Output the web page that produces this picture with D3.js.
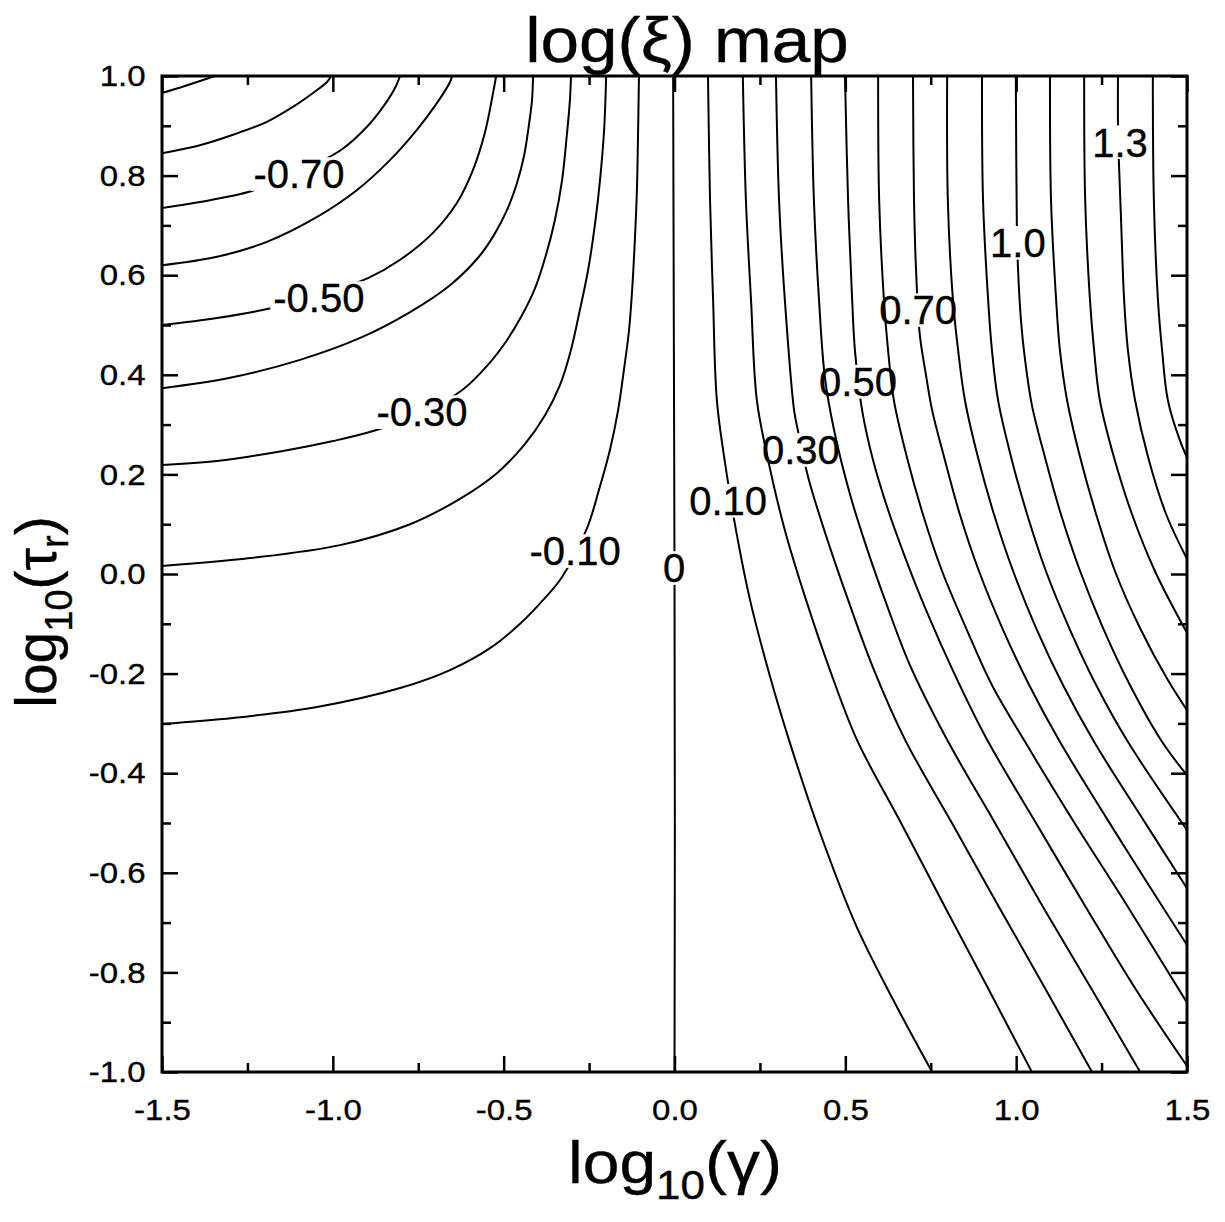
<!DOCTYPE html>
<html>
<head>
<meta charset="utf-8">
<script src="https://cdn.jsdelivr.net/npm/d3@7"></script>
<style>
  body { margin: 0; background: #fff; }
  svg text { font-family: "Liberation Sans", Arial, sans-serif; fill: #000; stroke: #000; stroke-width: 0.35px; }
</style>
</head>
<body>
<svg id="chart" width="1225" height="1222"></svg>
<script>
// axis ticks
const xTicks = [-1.5, -1.0, -0.5, 0.0, 0.5, 1.0, 1.5];
const xMinor = [-1.25, -0.75, -0.25, 0.25, 0.75, 1.25];
const yTicks = [-1.0, -0.8, -0.6, -0.4, -0.2, 0.0, 0.2, 0.4, 0.6, 0.8, 1.0];
const yMinor = [-0.9, -0.7, -0.5, -0.3, -0.1, 0.1, 0.3, 0.5, 0.7, 0.9];

// contour lines, [log10(gamma), log10(tau_r)]
const cM09 = [[-1.5,0.966],[-1.433,0.980],[-1.345,1.0]];
const cM08 = [[-1.5,0.845],[-1.389,0.861],[-1.292,0.882],[-1.193,0.908],[-1.117,0.938],[-1.058,0.966],[-1.017,0.988],[-1.005,1.0]];
const cM07 = [[-1.5,0.735],[-1.389,0.747],[-1.237,0.769],[-1.105,0.805],[-0.973,0.853],[-0.900,0.898],[-0.853,0.938],[-0.818,0.976],[-0.803,1.0]];
const cM06 = [[-1.5,0.620],[-1.339,0.637],[-1.193,0.667],[-1.046,0.717],[-0.929,0.771],[-0.833,0.831],[-0.754,0.892],[-0.695,0.946],[-0.657,0.988],[-0.651,1.0]];
const cM05 = [[-1.5,0.500],[-1.339,0.514],[-1.178,0.534],[-1.038,0.560],[-0.897,0.594],[-0.803,0.631],[-0.707,0.685],[-0.637,0.745],[-0.590,0.811],[-0.555,0.886],[-0.531,0.966],[-0.522,1.0]];
const cM04 = [[-1.5,0.373],[-1.301,0.394],[-1.096,0.430],[-0.920,0.474],[-0.774,0.526],[-0.657,0.580],[-0.575,0.635],[-0.528,0.681],[-0.490,0.731],[-0.461,0.785],[-0.440,0.841],[-0.426,0.902],[-0.417,0.952],[-0.414,1.0]];
const cM03 = [[-1.5,0.219],[-1.339,0.227],[-1.146,0.247],[-0.999,0.267],[-0.882,0.287],[-0.745,0.321],[-0.622,0.369],[-0.546,0.420],[-0.490,0.470],[-0.446,0.520],[-0.408,0.574],[-0.376,0.641],[-0.350,0.711],[-0.329,0.791],[-0.315,0.882],[-0.306,0.952],[-0.303,1.0]];
const cM02 = [[-1.5,0.016],[-1.242,0.032],[-0.979,0.058],[-0.774,0.100],[-0.628,0.151],[-0.519,0.203],[-0.438,0.261],[-0.379,0.319],[-0.335,0.380],[-0.303,0.450],[-0.277,0.530],[-0.253,0.610],[-0.233,0.701],[-0.218,0.791],[-0.206,0.892],[-0.200,1.0]];
const cM01 = [[-1.5,-0.301],[-1.292,-0.289],[-1.046,-0.267],[-0.803,-0.229],[-0.657,-0.193],[-0.540,-0.149],[-0.452,-0.100],[-0.379,-0.048],[-0.329,-0.006],[-0.256,0.092],[-0.221,0.169],[-0.189,0.249],[-0.165,0.329],[-0.148,0.410],[-0.133,0.490],[-0.124,0.570],[-0.116,0.671],[-0.110,0.771],[-0.107,0.871],[-0.104,1.0]];
const c00 = [[-0.004,1.0],[-0.002,0.5],[0.0,0.0],[0.001,-0.5],[0.0,-1.0]];
const c01 = [[0.098,1.0],[0.104,0.751],[0.113,0.550],[0.124,0.349],[0.151,0.209],[0.180,0.088],[0.221,-0.052],[0.280,-0.207],[0.335,-0.333],[0.423,-0.514],[0.531,-0.705],[0.640,-0.855],[0.754,-1.0]];
const c02 = [[0.200,1.0],[0.209,0.751],[0.224,0.550],[0.241,0.349],[0.274,0.229],[0.323,0.088],[0.385,-0.052],[0.455,-0.193],[0.534,-0.333],[0.663,-0.500],[0.792,-0.669],[0.920,-0.835],[1.046,-1.0]];
const c03 = [[0.297,1.0],[0.306,0.751],[0.323,0.550],[0.350,0.329],[0.361,0.289],[0.391,0.195],[0.443,0.078],[0.508,-0.052],[0.584,-0.193],[0.675,-0.333],[0.812,-0.500],[0.950,-0.669],[1.087,-0.835],[1.222,-1.0]];
const c04 = [[0.400,1.0],[0.408,0.751],[0.423,0.550],[0.440,0.396],[0.467,0.289],[0.514,0.159],[0.560,0.058],[0.616,-0.052],[0.689,-0.183],[0.798,-0.333],[0.938,-0.500],[1.079,-0.669],[1.222,-0.835],[1.363,-1.0]];
const c05 = [[0.499,1.0],[0.508,0.751],[0.520,0.550],[0.528,0.450],[0.549,0.329],[0.581,0.229],[0.625,0.129],[0.678,0.028],[0.736,-0.072],[0.821,-0.203],[0.915,-0.333],[1.058,-0.500],[1.204,-0.669],[1.351,-0.835],[1.5,-0.988]];
const c06 = [[0.596,1.0],[0.599,0.751],[0.613,0.550],[0.625,0.450],[0.642,0.349],[0.680,0.235],[0.727,0.120],[0.783,0.006],[0.853,-0.108],[0.929,-0.223],[1.026,-0.337],[1.169,-0.498],[1.324,-0.665],[1.5,-0.861]];
const c07 = [[0.698,1.0],[0.701,0.751],[0.707,0.610],[0.718,0.480],[0.736,0.400],[0.754,0.329],[0.789,0.235],[0.835,0.120],[0.891,0.006],[0.959,-0.108],[1.038,-0.223],[1.128,-0.337],[1.310,-0.540],[1.5,-0.745]];
const c08 = [[0.798,1.0],[0.800,0.751],[0.815,0.550],[0.830,0.450],[0.850,0.349],[0.888,0.235],[0.935,0.120],[0.991,0.006],[1.058,-0.108],[1.137,-0.223],[1.228,-0.337],[1.363,-0.484],[1.5,-0.631]];
const c09 = [[0.900,1.0],[0.903,0.751],[0.918,0.550],[0.929,0.450],[0.947,0.349],[0.985,0.235],[1.032,0.120],[1.087,0.006],[1.155,-0.108],[1.234,-0.223],[1.327,-0.337],[1.5,-0.514]];
const c10 = [[0.999,1.0],[1.002,0.701],[1.005,0.620],[1.014,0.510],[1.026,0.430],[1.046,0.339],[1.084,0.235],[1.131,0.120],[1.187,0.006],[1.254,-0.108],[1.333,-0.223],[1.427,-0.337],[1.5,-0.404]];
const c11 = [[1.099,1.0],[1.102,0.751],[1.117,0.550],[1.128,0.450],[1.149,0.349],[1.187,0.235],[1.234,0.120],[1.289,0.006],[1.362,-0.108],[1.444,-0.213],[1.523,-0.297]];
const c12 = [[1.199,1.0],[1.202,0.751],[1.216,0.550],[1.228,0.450],[1.245,0.349],[1.286,0.235],[1.339,0.120],[1.406,0.006],[1.479,-0.092],[1.538,-0.163]];
const c13 = [[1.298,1.0],[1.298,0.902],[1.301,0.821],[1.307,0.711],[1.316,0.550],[1.327,0.450],[1.348,0.349],[1.386,0.235],[1.439,0.120],[1.509,0.018]];
const c14 = [[1.400,1.0],[1.403,0.751],[1.415,0.550],[1.427,0.450],[1.444,0.349],[1.479,0.269],[1.523,0.199]];

const contourLevels = [-0.9, -0.8, -0.7, -0.6, -0.5, -0.4, -0.3, -0.2, -0.1, 0, 0.1, 0.2, 0.3, 0.4, 0.5, 0.6, 0.7, 0.8, 0.9, 1.0, 1.1, 1.2, 1.3, 1.4];
const contourLines = [cM09, cM08, cM07, cM06, cM05, cM04, cM03, cM02, cM01, c00, c01, c02, c03, c04, c05, c06, c07, c08, c09, c10, c11, c12, c13, c14];

// inline contour labels
const labelLevels = [-0.7, -0.5, -0.3, -0.1, 0, 0.1, 0.3, 0.5, 0.7, 1.0, 1.3];
const labelText = ["-0.70", "-0.50", "-0.30", "-0.10", "0", "0.10", "0.30", "0.50", "0.70", "1.0", "1.3"];
const labelX = [-1.099, -1.041, -0.739, -0.291, -0.001, 0.157, 0.370, 0.537, 0.713, 1.005, 1.304];
const labelY = [0.803, 0.554, 0.325, 0.046, 0.012, 0.147, 0.249, 0.386, 0.530, 0.665, 0.867];

const margin = { top: 76, right: 38, bottom: 150, left: 162 };
const width = 1225 - margin.left - margin.right;
const height = 1222 - margin.top - margin.bottom;
const labelSize = 40;

const svg = d3.select("#chart");
const defs = svg.append("defs");

const g = svg.append("g")
    .attr("transform", `translate(${margin.left},${margin.top})`);

const x = d3.scaleLinear().domain([-1.5, 1.5]).range([0, width]);
const y = d3.scaleLinear().domain([-1, 1]).range([height, 0]);

defs.append("clipPath").attr("id", "plot-clip")
    .append("rect").attr("width", width).attr("height", height);

const line = d3.line()
    .x(d => x(d[0]))
    .y(d => y(d[1]))
    .curve(d3.curveCatmullRom.alpha(0.5));

const lines = g.append("g")
    .attr("clip-path", "url(#plot-clip)")
    .selectAll("path")
    .data(contourLines)
    .enter()
    .append("path")
    .attr("fill", "none")
    .attr("stroke", "#000")
    .attr("stroke-width", 2)
    .attr("d", line);

// contour labels, the line is cut out under each one
const labels = g.append("g")
    .selectAll("text")
    .data(labelText)
    .enter()
    .append("text")
    .attr("x", (d, i) => x(labelX[i]))
    .attr("y", (d, i) => y(labelY[i]) + labelSize * 0.358)
    .attr("text-anchor", "middle")
    .style("font-size", labelSize + "px")
    .text(d => d);

labels.each(function(d, i) {
    const b = this.getBBox();
    const cy = y(labelY[i]);
    const m = defs.append("mask")
        .attr("id", "label-mask-" + i)
        .attr("maskUnits", "userSpaceOnUse")
        .attr("x", -20).attr("y", -20)
        .attr("width", width + 40).attr("height", height + 40);
    m.append("rect")
        .attr("x", -20).attr("y", -20)
        .attr("width", width + 40).attr("height", height + 40)
        .attr("fill", "#fff");
    m.append("rect")
        .attr("x", b.x - 3).attr("y", cy - labelSize * 0.42)
        .attr("width", b.width + 6).attr("height", labelSize * 0.84)
        .attr("fill", "#000");
    const idx = contourLevels.indexOf(labelLevels[i]);
    lines.filter((p, j) => j === idx).attr("mask", `url(#label-mask-${i})`);
});

// axes with inward ticks on all four sides
const fmt = d => d.toFixed(1);
function styleAxis(sel) {
    sel.select(".domain").remove();
    sel.selectAll(".tick line").attr("stroke", "#000").attr("stroke-width", 2.5);
    sel.selectAll(".tick text")
        .style("font-size", "30px")
        .style("font-family", '"Liberation Sans", Arial, sans-serif')
        .attr("transform", "scale(1.1,1)")
        .attr("fill", "#000");
}

g.append("g").attr("transform", `translate(0,${height})`)
    .call(d3.axisBottom(x).tickValues(xTicks).tickSize(-16).tickPadding(27).tickFormat(fmt))
    .call(styleAxis);
g.append("g").attr("transform", `translate(0,${height})`)
    .call(d3.axisBottom(x).tickValues(xMinor).tickSize(-9).tickFormat(""))
    .call(styleAxis);
g.append("g")
    .call(d3.axisTop(x).tickValues(xTicks).tickSize(-16).tickFormat(""))
    .call(styleAxis);
g.append("g")
    .call(d3.axisTop(x).tickValues(xMinor).tickSize(-9).tickFormat(""))
    .call(styleAxis);

g.append("g")
    .call(d3.axisLeft(y).tickValues(yTicks).tickSize(-16).tickPadding(15).tickFormat(fmt))
    .call(styleAxis);
g.append("g")
    .call(d3.axisLeft(y).tickValues(yMinor).tickSize(-9).tickFormat(""))
    .call(styleAxis);
g.append("g").attr("transform", `translate(${width},0)`)
    .call(d3.axisRight(y).tickValues(yTicks).tickSize(-16).tickFormat(""))
    .call(styleAxis);
g.append("g").attr("transform", `translate(${width},0)`)
    .call(d3.axisRight(y).tickValues(yMinor).tickSize(-9).tickFormat(""))
    .call(styleAxis);

g.append("rect")
    .attr("width", width)
    .attr("height", height)
    .attr("fill", "none")
    .attr("stroke", "#000")
    .attr("stroke-width", 3);

// title
svg.append("text")
    .attr("transform", "translate(687,62) scale(1.1,1)")
    .attr("text-anchor", "middle")
    .style("font-size", "63px")
    .text("log(\u03BE) map");

// x axis title
const xt = svg.append("text")
    .attr("transform", "translate(675,1183) scale(1.1,1)")
    .attr("text-anchor", "middle")
    .style("font-size", "60px");
xt.append("tspan").text("log");
xt.append("tspan").attr("dy", 16).style("font-size", "40px").text("10");
xt.append("tspan").attr("dy", -16).text("(\u03B3)");

// y axis title
const yt = svg.append("text")
    .attr("transform", "translate(56,612) rotate(-90)")
    .attr("text-anchor", "middle")
    .style("font-size", "57px");
yt.append("tspan").text("log");
yt.append("tspan").attr("dy", 16).style("font-size", "38px").text("10");
yt.append("tspan").attr("dy", -16).text("(\u03C4");
yt.append("tspan").attr("dy", 12).style("font-size", "38px").text("r");
yt.append("tspan").attr("dy", -12).text(")");
</script>
</body>
</html>
